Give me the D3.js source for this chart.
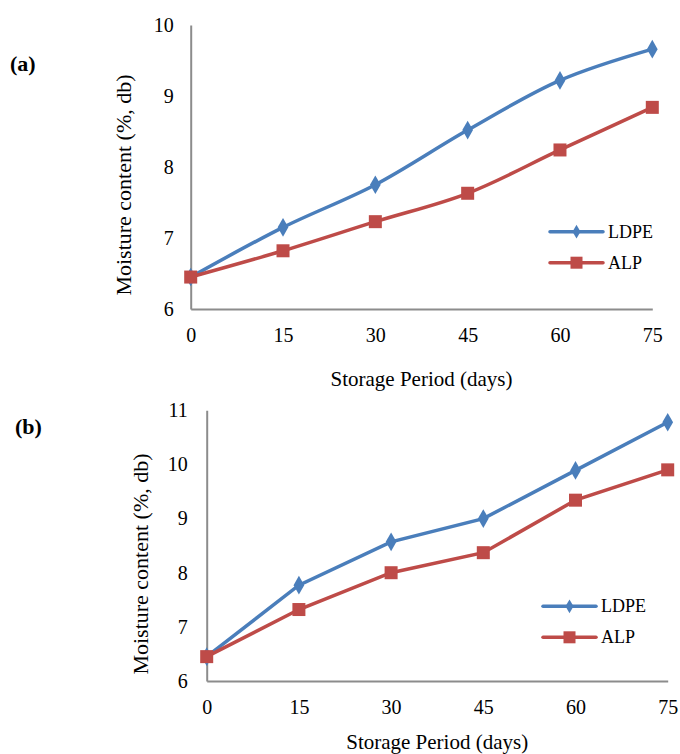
<!DOCTYPE html>
<html>
<head>
<meta charset="utf-8">
<script src="https://cdn.jsdelivr.net/npm/d3@7.9.0/dist/d3.min.js"></script>
<style>
  body { margin: 0; background: #fff; }
  svg { display: block; font-family: "Liberation Serif", "Times New Roman", serif; }
</style>
</head>
<body>
<svg id="chart" width="680" height="754"></svg>
<script>
const days = [0, 15, 30, 45, 60, 75];
const seriesNames = ['LDPE', 'ALP'];
const ldpeA = [6.45, 7.15, 7.75, 8.52, 9.22, 9.66];
const alpA = [6.45, 6.82, 7.23, 7.63, 8.24, 8.84];
const ldpeB = [6.45, 7.77, 8.57, 9.0, 9.89, 10.78];
const alpB = [6.45, 7.32, 8.0, 8.37, 9.34, 9.9];
const yTicksA = [6, 7, 8, 9, 10];
const yTicksB = [6, 7, 8, 9, 10, 11];

const colors = ['#4a7ebb', '#be4b48'];
const svg = d3.select('#chart');

function drawPanel(cfg) {
  const g = svg.append('g');
  const x = d3.scaleLinear().domain([0, 75]).range([cfg.left, cfg.right]);
  const y = d3.scaleLinear().domain(cfg.yDomain).range([cfg.bottom, cfg.top]);

  // axes, no tick marks, grey axis lines
  const yAxis = g.append('g')
    .attr('transform', `translate(${cfg.left},0)`)
    .call(d3.axisLeft(y).tickValues(cfg.yTicks).tickFormat(d3.format('d')).tickSize(0).tickPadding(cfg.yPad));
  const xAxis = g.append('g')
    .attr('transform', `translate(0,${cfg.bottom})`)
    .call(d3.axisBottom(x).tickValues(days).tickFormat(d3.format('d')).tickSize(0).tickPadding(19));

  [xAxis, yAxis].forEach(ax => {
    ax.attr('font-family', null).attr('font-size', 20);
    ax.select('.domain').attr('stroke', '#8c8c8c').attr('stroke-width', 2);
    ax.selectAll('.tick text').attr('fill', '#000');
  });

  // axis titles
  g.append('text')
    .attr('x', (cfg.left + cfg.right) / 2)
    .attr('y', cfg.xTitleY)
    .attr('text-anchor', 'middle')
    .style('font-size', '21px')
    .text('Storage Period (days)');

  g.append('text')
    .attr('transform', `translate(${cfg.yTitleX},${cfg.yTitleY}) rotate(-90)`)
    .attr('text-anchor', 'middle')
    .style('font-size', '22px')
    .text('Moisture content (%, db)');

  g.append('text')
    .attr('x', cfg.labelX)
    .attr('y', cfg.labelY)
    .style('font-size', '22px')
    .style('font-weight', 'bold')
    .text(cfg.label);

  const line = d3.line()
    .x((d, i) => x(days[i]))
    .y(d => y(d))
    .curve(cfg.smooth ? d3.curveCatmullRom.alpha(0.5) : d3.curveLinear);

  cfg.series.forEach((vals, si) => {
    g.append('path')
      .datum(vals)
      .attr('fill', 'none')
      .attr('stroke', colors[si])
      .attr('stroke-width', 3.5)
      .attr('d', line);
  });

  const diamond = d3.symbol().type(d3.symbolDiamond).size(100);
  cfg.series.forEach((vals, si) => {
    g.selectAll(null)
      .data(vals)
      .enter()
      .append(si === 0 ? 'path' : 'rect')
      .each(function (d, i) {
        const el = d3.select(this);
        if (si === 0) {
          el.attr('d', diamond).attr('transform', `translate(${x(days[i])},${y(d)})`);
        } else {
          el.attr('x', x(days[i]) - 6.5).attr('y', y(d) - 6.5).attr('width', 13).attr('height', 13);
        }
      })
      .attr('fill', colors[si]);
  });

  // legend
  seriesNames.forEach((name, si) => {
    const ly = cfg.legendY + si * cfg.legendGap;
    g.append('line')
      .attr('x1', cfg.legendX).attr('x2', cfg.legendX + 53)
      .attr('y1', ly).attr('y2', ly)
      .attr('stroke', colors[si]).attr('stroke-width', 3.5)
      .attr('stroke-linecap', 'round');
    if (si === 0) {
      g.append('path').attr('d', d3.symbol().type(d3.symbolDiamond).size(55))
        .attr('transform', `translate(${cfg.legendX + 26.5},${ly})`)
        .attr('fill', colors[si]);
    } else {
      g.append('rect').attr('x', cfg.legendX + 20.5).attr('y', ly - 6)
        .attr('width', 12).attr('height', 12).attr('fill', colors[si]);
    }
    g.append('text')
      .attr('x', cfg.legendX + 58)
      .attr('y', ly + 6)
      .style('font-size', '18px')
      .text(name);
  });
}

drawPanel({
  left: 190.7, right: 652.3, top: 25, bottom: 309,
  yDomain: [6, 10], yTicks: yTicksA, yPad: 17,
  series: [ldpeA, alpA], smooth: true,
  xTitleY: 386, yTitleX: 131, yTitleY: 185,
  label: '(a)', labelX: 10, labelY: 71,
  legendX: 550, legendY: 231.7, legendGap: 31
});

drawPanel({
  left: 206.7, right: 667.7, top: 410.3, bottom: 681,
  yDomain: [6, 11], yTicks: yTicksB, yPad: 19,
  series: [ldpeB, alpB], smooth: false,
  xTitleY: 749, yTitleX: 148, yTitleY: 564,
  label: '(b)', labelX: 15, labelY: 434,
  legendX: 543, legendY: 606.3, legendGap: 31
});
</script>
</body>
</html>
